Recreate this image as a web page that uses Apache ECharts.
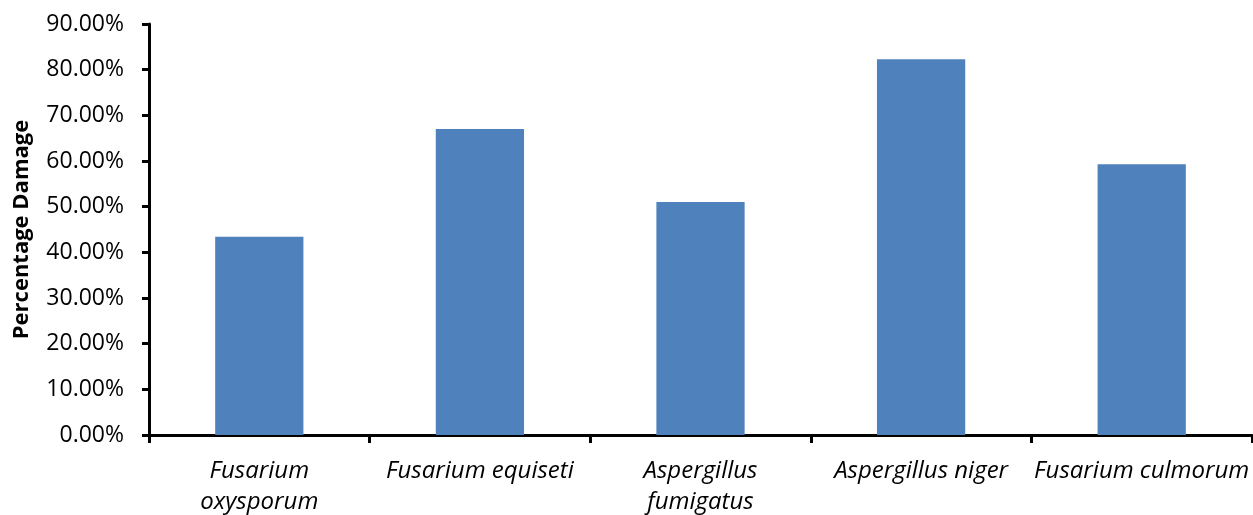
<!DOCTYPE html>
<html>
<head>
<meta charset="utf-8">
<script src="https://cdn.jsdelivr.net/npm/echarts@6/dist/echarts.min.js"></script>
<style>
html,body{margin:0;padding:0;background:#fff;}
#chart{width:1253px;height:515px;}
</style>
</head>
<body>
<div id="chart"></div>
<script>
const categories = ["Fusarium\noxysporum", "Fusarium equiseti", "Aspergillus\nfumigatus", "Aspergillus niger", "Fusarium culmorum"];
const damageValues = [43.4, 67.0, 51.0, 82.3, 59.3];
const yTicks = [0, 10, 20, 30, 40, 50, 60, 70, 80, 90];
const yAxisTitle = "Percentage Damage";

const FONT = "'Open Sans', 'Noto Sans', sans-serif";
const chart = echarts.init(document.getElementById('chart'), null, {renderer: 'canvas'});
chart.setOption({
  animation: false,
  backgroundColor: '#ffffff',
  grid: {left: 149, right: 1, top: 24, bottom: 80, containLabel: false, outerBoundsMode: 'none'},
  xAxis: {
    type: 'category',
    data: categories,
    axisLine: {lineStyle: {color: '#000', width: 3}},
    axisTick: {show: true, length: 8, lineStyle: {color: '#000', width: 3}},
    axisLabel: {
      color: '#000', fontFamily: FONT, fontSize: 24, fontStyle: 'italic',
      margin: 21, lineHeight: 31, interval: 0
    }
  },
  yAxis: {
    type: 'value',
    min: yTicks[0],
    max: yTicks[yTicks.length - 1],
    interval: 10,
    name: yAxisTitle,
    nameLocation: 'middle',
    nameGap: 116,
    nameRotate: 90,
    nameTextStyle: {color: '#000', fontFamily: FONT, fontSize: 22, fontWeight: 'bold', padding: [0, 0, 0, 0]},
    axisLine: {show: true, lineStyle: {color: '#000', width: 3}},
    axisTick: {show: true, length: 7, lineStyle: {color: '#000', width: 3}},
    splitLine: {show: false},
    axisLabel: {
      color: '#000', fontFamily: FONT, fontSize: 23, margin: 25,
      formatter: v => v.toFixed(2) + '%'
    }
  },
  series: [{
    type: 'bar',
    data: damageValues,
    barWidth: '40%',
    itemStyle: {color: '#4F81BD'}
  }]
});
</script>
</body>
</html>
